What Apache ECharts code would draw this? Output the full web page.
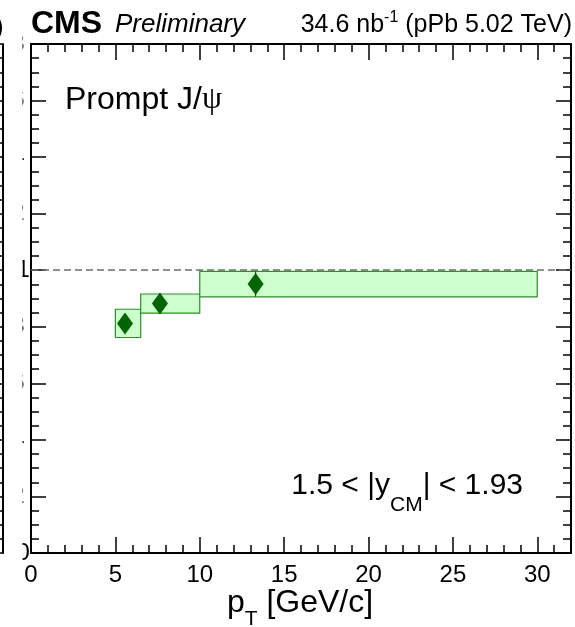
<!DOCTYPE html>
<html>
<head>
<meta charset="utf-8">
<script src="https://cdn.jsdelivr.net/npm/echarts@6/dist/echarts.min.js"></script>
<style>
  html, body { margin: 0; padding: 0; background: #fff; }
  #chart { width: 575px; height: 627px; }
</style>
</head>
<body>
<div id="chart"></div>
<script>
// Prompt J/psi nuclear modification vs pT, 1.5 < |y_CM| < 1.93
const ptLow   = [5, 6.5, 10];
const ptHigh  = [6.5, 10, 30];
const ptMean  = [5.57, 7.64, 13.31];
const ratio   = [0.812, 0.882, 0.951];
const statErr = [0.03, 0.036, 0.045];
const systErr = [0.05, 0.034, 0.045];

// axis ticks
const xTickValues = [0, 5, 10, 15, 20, 25, 30];
const yTickLabels = ['0', '0.2', '0.4', '0.6', '0.8', '1', '1.2', '1.4', '1.6', '1.8'];
const refLine = 1;

const FONT = "'Liberation Sans', Helvetica, Arial, sans-serif";
const BLACK = '#000';

const boxData = ptLow.map((lo, i) => [lo, ptHigh[i], ratio[i] - systErr[i], ratio[i] + systErr[i]]);
const pointData = ptMean.map((x, i) => [x, ratio[i]]);
const errData = ptMean.map((x, i) => [x, ratio[i] - statErr[i], ratio[i] + statErr[i]]);

function xAxisDef(position, major) {
  return {
    type: 'value', gridIndex: 0, position: position,
    min: 0, max: 32, interval: major ? 5 : 1,
    axisLine: { show: major, onZero: false, lineStyle: { color: BLACK, width: 2 } },
    axisTick: { show: true, inside: true, length: major ? 16 : 8, lineStyle: { color: BLACK, width: 1.5 } },
    axisLabel: {
      show: major && position === 'bottom',
      color: BLACK, fontFamily: FONT, fontSize: 24, margin: 10,
      formatter: v => (xTickValues.indexOf(v) >= 0 ? String(v) : '')
    },
    splitLine: { show: false }
  };
}

function yAxisDef(position, grid, labels, z) {
  return {
    type: 'value', gridIndex: grid, position: position, z: z,
    min: 0, max: 1.8, interval: 0.2,
    axisLine: { show: true, onZero: false, lineStyle: { color: BLACK, width: 2 } },
    axisTick: { show: true, inside: true, length: 15, lineStyle: { color: BLACK, width: 1.5 } },
    minorTick: { show: true, splitNumber: 4, length: 8, lineStyle: { color: BLACK, width: 1.5 } },
    axisLabel: {
      show: labels, color: BLACK, fontFamily: FONT, fontSize: 24, margin: 6.5,
      formatter: v => {
        const t = yTickLabels[Math.round(v / 0.2)] || '';
        return t.length === 1 ? '{one|' + t + '}' : t;
      },
      rich: { one: { fontFamily: FONT, fontSize: 24, color: BLACK, width: 8, align: 'left' } }
    },
    splitLine: { show: false }
  };
}

const option = {
  animation: false,
  backgroundColor: '#fff',
  grid: [
    { left: 31, right: 4, top: 44, bottom: 74, outerBoundsMode: 'none', containLabel: false },
    { left: -300, right: 572.5, top: 44, bottom: 74, outerBoundsMode: 'none', containLabel: false }
  ],
  xAxis: [
    xAxisDef('bottom', true),
    xAxisDef('bottom', false),
    xAxisDef('top', true),
    xAxisDef('top', false),
    { type: 'value', gridIndex: 1, show: false, min: 0, max: 1 }
  ],
  yAxis: [
    yAxisDef('left', 0, true, 0),
    yAxisDef('right', 0, false, 0),
    yAxisDef('right', 1, false, 200)
  ],
  graphic: [
    // neighbouring pad covers the left part of the tick labels
    { type: 'rect', z: 100, shape: { x: 0, y: 0, width: 22.5, height: 627 }, style: { fill: '#fff' } },
    { type: 'text', z: 101, x: 3.5, y: 28,
      style: { text: 'TeV)', fill: BLACK, fontFamily: FONT, fontSize: 25, textAlign: 'right', textVerticalAlign: 'middle' } },
    { type: 'text', z: 101, x: 31, y: 24,
      style: { text: 'CMS', fill: BLACK, fontFamily: FONT, fontWeight: 'bold', fontSize: 32, textAlign: 'left', textVerticalAlign: 'middle' } },
    { type: 'text', z: 101, x: 115, y: 25,
      style: { text: 'Preliminary', fill: BLACK, fontFamily: FONT, fontStyle: 'italic', fontSize: 26, textAlign: 'left', textVerticalAlign: 'middle' } },
    { type: 'text', z: 101, x: 572, y: 25,
      style: {
        text: '{m|34.6 nb}{s|-1}{m| (pPb 5.02 TeV)}', fill: BLACK, textAlign: 'right', textVerticalAlign: 'middle',
        rich: {
          m: { fontFamily: FONT, fontSize: 25, color: BLACK, verticalAlign: 'middle' },
          s: { fontFamily: FONT, fontSize: 16, color: BLACK, padding: [0, 0, 15, 0] }
        }
      } },
    { type: 'text', z: 101, x: 65, y: 100,
      style: {
        text: '{m|Prompt J/}{g|ψ}', fill: BLACK, textAlign: 'left', textVerticalAlign: 'middle',
        rich: {
          m: { fontFamily: FONT, fontSize: 32, color: BLACK, verticalAlign: 'middle' },
          g: { fontFamily: "'Liberation Serif', 'DejaVu Serif', serif", fontSize: 32, color: BLACK, verticalAlign: 'middle' }
        }
      } },
    { type: 'text', z: 101, x: 523, y: 486,
      style: {
        text: '{m|1.5 < |y}{s|CM}{m|| < 1.93}', fill: BLACK, textAlign: 'right', textVerticalAlign: 'middle',
        rich: {
          m: { fontFamily: FONT, fontSize: 30, color: BLACK, verticalAlign: 'middle' },
          s: { fontFamily: FONT, fontSize: 21, color: BLACK, padding: [38, 0, 0, 0] }
        }
      } },
    { type: 'text', z: 101, x: 300, y: 603,
      style: {
        text: '{m|p}{s|T}{m| [GeV/c]}', fill: BLACK, textAlign: 'center', textVerticalAlign: 'middle',
        rich: {
          m: { fontFamily: FONT, fontSize: 32, color: BLACK, verticalAlign: 'middle' },
          s: { fontFamily: FONT, fontSize: 21, color: BLACK, padding: [32, 0, 0, 0] }
        }
      } }
  ],
  series: [
    {
      type: 'custom', name: 'syst', xAxisIndex: 0, yAxisIndex: 0, z: 2,
      data: boxData,
      encode: { x: [0, 1], y: [2, 3] },
      renderItem: (params, api) => {
        const p1 = api.coord([api.value(0), api.value(3)]);
        const p2 = api.coord([api.value(1), api.value(2)]);
        return {
          type: 'rect',
          shape: { x: p1[0], y: p1[1], width: p2[0] - p1[0], height: p2[1] - p1[1] },
          style: { fill: '#ccffcc', stroke: '#2b8f2b', lineWidth: 1.2 }
        };
      },
      markLine: {
        silent: true, symbol: 'none', label: { show: false },
        lineStyle: { color: '#6e6e6e', type: [7, 4], width: 1.5 },
        data: [{ yAxis: refLine }]
      }
    },
    {
      type: 'custom', name: 'stat', xAxisIndex: 0, yAxisIndex: 0, z: 3,
      data: errData,
      encode: { x: 0, y: [1, 2] },
      renderItem: (params, api) => {
        const a = api.coord([api.value(0), api.value(1)]);
        const b = api.coord([api.value(0), api.value(2)]);
        return {
          type: 'line',
          shape: { x1: a[0], y1: a[1], x2: b[0], y2: b[1] },
          style: { stroke: '#006400', lineWidth: 1.2 }
        };
      }
    },
    {
      type: 'scatter', name: 'ratio', xAxisIndex: 0, yAxisIndex: 0, z: 4,
      symbol: 'diamond', symbolSize: [16, 22],
      itemStyle: { color: '#006400', opacity: 1 },
      data: pointData
    }
  ]
};

const chart = echarts.init(document.getElementById('chart'), null, { renderer: 'canvas' });
chart.setOption(option);
</script>
</body>
</html>
